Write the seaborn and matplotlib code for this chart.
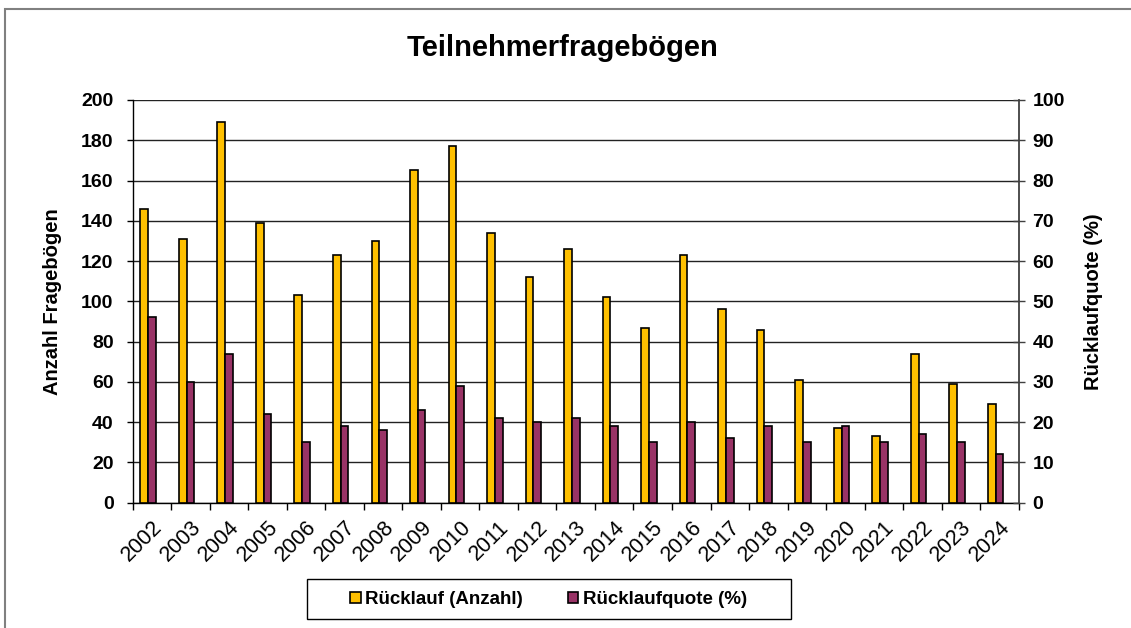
import numpy as np
import pandas as pd
import seaborn as sns
import matplotlib
matplotlib.use("Agg")
import matplotlib.pyplot as plt
from matplotlib.patches import Patch, Rectangle

# ---------------- data ----------------
years = ["2002", "2003", "2004", "2005", "2006", "2007", "2008", "2009", "2010",
         "2011", "2012", "2013", "2014", "2015", "2016", "2017", "2018", "2019",
         "2020", "2021", "2022", "2023", "2024"]
ruecklauf_anzahl = [146, 131, 189, 139, 103, 123, 130, 165, 177, 134, 112, 126,
                    102, 87, 123, 96, 86, 61, 37, 33, 74, 59, 49]
ruecklaufquote = [46, 30, 37, 22, 15, 19, 18, 23, 29, 21, 20, 21,
                  19, 15, 20, 16, 19, 15, 19, 15, 17, 15, 12]
series_names = ["Rücklauf (Anzahl)", "Rücklaufquote (%)"]
colors = ["#FFC000", "#993366"]
title = "Teilnehmerfragebögen"
ylabel_left = "Anzahl Fragebögen"
ylabel_right = "Rücklaufquote (%)"
left_ticks = list(range(0, 201, 20))
right_ticks = list(range(0, 101, 10))

# ---------------- style ----------------
sns.set_theme(style="white")
plt.rcParams['font.family'] = ['Liberation Sans', 'DejaVu Sans']
plt.rcParams.update({"text.color": "black", "axes.labelcolor": "black",
                     "xtick.color": "black", "ytick.color": "black"})

W, H = 1131, 628
fig = plt.figure(figsize=(W / 100, H / 100), dpi=100)
fig.patch.set_facecolor("white")

ax_l, ax_r, ax_b, ax_t = 132.7, 1018.7, 502.7, 100.0
ax1 = fig.add_axes([ax_l / W, 1 - ax_b / H, (ax_r - ax_l) / W, (ax_b - ax_t) / H])
ax2 = ax1.twinx()

dummy = "_leer"
hue_order = [series_names[0], series_names[1], dummy]
palette = {series_names[0]: colors[0], series_names[1]: colors[1], dummy: "white"}

df1 = pd.DataFrame({"Jahr": years, "Wert": ruecklauf_anzahl, "Serie": series_names[0]})
df2 = pd.DataFrame({"Jahr": years, "Wert": ruecklaufquote, "Serie": series_names[1]})

sns.barplot(data=df1, x="Jahr", y="Wert", hue="Serie", hue_order=hue_order,
            palette=palette, order=years, width=0.6, dodge=True, ax=ax1,
            edgecolor="black", linewidth=1.2, legend=False, errorbar=None,
            saturation=1, zorder=3)
sns.barplot(data=df2, x="Jahr", y="Wert", hue="Serie", hue_order=hue_order,
            palette=palette, order=years, width=0.6, dodge=True, ax=ax2,
            edgecolor="black", linewidth=1.2, legend=False, errorbar=None,
            saturation=1, zorder=3)

ax1.set_ylim(0, 200)
ax2.set_ylim(0, 100)
ax1.set_xlim(-0.5, len(years) - 0.5)

# y axes
ax1.set_yticks(left_ticks)
ax1.set_yticklabels([str(t) for t in left_ticks], fontsize=14, fontweight="bold",
                    color="black")
ax2.set_yticks(right_ticks)
ax2.set_yticklabels([str(t) for t in right_ticks], fontsize=14, fontweight="bold",
                    color="black")
ax1.tick_params(axis="y", left=True, direction="out", length=4.3, width=1,
                color="black", pad=9.5)
ax2.tick_params(axis="y", right=True, direction="inout", length=8.6, width=1,
                color="#404040", pad=5.5)

ax1.set_ylabel(ylabel_left, fontsize=14.5, fontweight="bold", labelpad=14,
               color="black")
ax2.set_ylabel(ylabel_right, fontsize=14.5, fontweight="bold", labelpad=14,
               rotation=90, color="black")
ax1.set_xlabel("")
ax2.set_xlabel("")

# grid
ax1.yaxis.grid(True, color="#222222", linewidth=1.0)
ax1.set_axisbelow(True)

# x axis: ticks at category boundaries, labels at centres
ax1.set_xticks(np.arange(-0.5, len(years), 1.0))
ax1.set_xticklabels([])
ax1.set_xticks(np.arange(len(years)), minor=True)
ax1.set_xticklabels(years, minor=True, rotation=45, ha="right",
                    rotation_mode="anchor", fontsize=15.5, color="black")
ax1.tick_params(axis="x", which="major", bottom=True, direction="out",
                length=4.8, width=1, color="black")
ax1.tick_params(axis="x", which="minor", bottom=False, length=0, pad=10)
ax2.tick_params(axis="x", which="both", bottom=False, labelbottom=False)

# spines
for a in (ax1, ax2):
    a.spines["top"].set_visible(False)
ax1.spines["right"].set_visible(False)
ax2.spines["left"].set_visible(False)
ax2.spines["bottom"].set_visible(False)
ax1.spines["left"].set_color("black")
ax1.spines["bottom"].set_color("black")
ax2.spines["right"].set_color("#404040")
ax2.spines["right"].set_linewidth(1.3)
ax1.spines["left"].set_linewidth(1.0)
ax1.spines["bottom"].set_linewidth(1.0)

# title
fig.text(0.4975, 1 - 48 / H, title, ha="center", va="center",
         fontsize=21, fontweight="bold", color="black")

# legend with separate frame
lx0, lx1, ly0, ly1 = 306.7, 790.7, 579.3, 619.3
fig.patches.append(Rectangle((lx0 / W, 1 - ly1 / H), (lx1 - lx0) / W, (ly1 - ly0) / H,
                             transform=fig.transFigure, fill=False,
                             edgecolor="black", linewidth=1.0))
handles = [Patch(facecolor=colors[0], edgecolor="black", linewidth=1.2),
           Patch(facecolor=colors[1], edgecolor="black", linewidth=1.2)]
leg = fig.legend(handles, series_names, loc="center", ncol=2, frameon=False,
                 bbox_to_anchor=((lx0 + lx1) / 2 / W, 1 - (ly0 + ly1) / 2 / H),
                 prop={"weight": "bold", "size": 13.5}, handlelength=0.55,
                 handleheight=0.55, handletextpad=0.25, columnspacing=2.4,
                 borderpad=0.2)
for t in leg.get_texts():
    t.set_color("black")

# outer chart border
fig.patches.append(Rectangle((5 / W, -0.1), 1.2, 1.1 - 9 / H,
                             transform=fig.transFigure, fill=False,
                             edgecolor="#808080", linewidth=1.5))

fig.savefig("out.png", dpi=100, facecolor="white")
